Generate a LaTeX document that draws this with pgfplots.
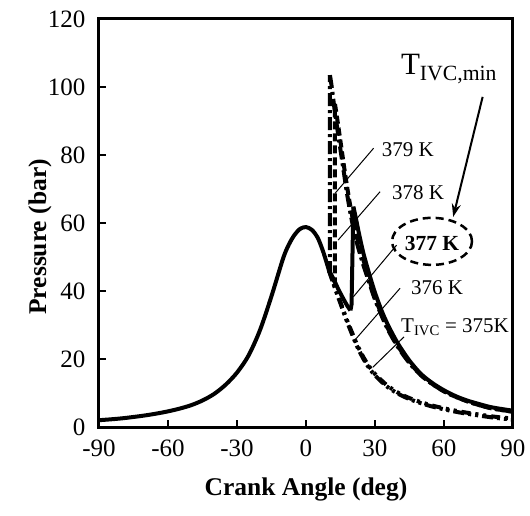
\documentclass[border=0pt]{standalone}
\usepackage{fontspec}
\setmainfont{Liberation Serif}
\usepackage{pgfplots}
\pgfplotsset{compat=1.18}
\usetikzlibrary{arrows.meta}

% common compression stroke (all cases)
\pgfplotstableread{
x y
-90 2.0
-85 2.25
-80 2.55
-75 2.95
-70 3.4
-65 3.95
-60 4.6
-55 5.4
-50 6.4
-45 7.8
-40 9.7
-35 12.4
-30 16.0
-25 21.0
-20 28.5
-15 38.5
-10 49.5
-7.5 53.6
-5 56.5
-2.5 58.3
0 58.8
2.5 58.0
5 55.8
7.5 51.5
10 46.0
}\comp

% T_IVC = 375 K (misfire)
\pgfplotstableread{
x y
10 46.0
12.5 41.0
15 36.3
17.5 31.6
20 27.3
22.5 23.3
25 20.0
27.5 17.3
30 15.2
35 12.0
40 9.8
45 8.2
50 7.0
55 6.0
60 5.2
65 4.5
70 3.9
75 3.4
80 2.9
85 2.5
90 2.2
}\tA

% 376 K
\pgfplotstableread{
x y
10 46.0
12.5 41.3
15 36.7
17.5 32.0
20 27.8
22.5 23.8
25 20.5
27.5 17.8
30 15.6
35 12.4
40 10.1
45 8.5
50 7.3
55 6.3
60 5.5
65 4.8
70 4.2
75 3.7
80 3.2
85 2.8
90 2.5
}\tB

% 377 K : before ignition
\pgfplotstableread{
x y
10 46.0
12 43.5
14 40.6
16 38.0
18 35.6
19.3 34.3
}\tCa
% 377 K : after ignition
\pgfplotstableread{
x y
20.6 64.8
21.5 62.0
23 57.0
25 51.0
27.5 45.0
30 39.5
33 34.0
36 29.5
40 24.5
45 19.5
50 15.6
55 12.9
60 10.8
65 9.1
70 7.8
75 6.8
80 5.9
85 5.3
90 4.8
}\tCb

% 378 K : after ignition
\pgfplotstableread{
x y
12.6 95.0
13.5 91.0
15 84.0
17 74.5
19 66.0
21 59.0
23 53.5
25 49.0
27.5 43.5
30 38.0
35 29.8
40 23.8
45 19.0
50 15.3
55 12.6
60 10.5
65 8.9
70 7.6
75 6.5
80 5.6
85 5.0
90 4.5
}\tD

% 379 K : after ignition
\pgfplotstableread{
x y
10.4 103.5
11.2 100.0
12.5 93.0
14 86.0
16 77.0
18 68.0
20 60.5
22 54.5
25 47.5
27.5 42.5
30 37.5
35 29.5
40 23.5
45 18.8
50 15.2
55 12.6
60 10.5
65 8.9
70 7.6
75 6.5
80 5.6
85 5.0
90 4.5
}\tE

\begin{document}
\begin{tikzpicture}[x=1pt,y=1pt]
\path (0,0) rectangle (530,515);
\begin{axis}[
  at={(99pt,88pt)}, anchor=south west,
  width=414pt, height=408pt, scale only axis,
  xmin=-90, xmax=90, ymin=0, ymax=120,
  xtick={-90,-60,-30,0,30,60,90},
  xticklabels={-90,-60,-30,0,30,60,90},
  ytick={0,20,40,60,80,100,120},
  yticklabels={0,20,40,60,80,100,120},
  tick align=inside, tick pos=left,
  major tick length=7pt,
  tick style={line width=1.2pt, black},
  axis line style={line width=3pt},
  tick label style={font=\fontsize{25}{30}\selectfont},
  xticklabel style={yshift=-9pt},
  yticklabel style={xshift=-10pt},
  xlabel={Crank Angle (deg)},
  xlabel style={at={(axis description cs:0.5,-0.154)}, anchor=center, font=\bfseries\fontsize{25.5}{30}\selectfont},
  ylabel={Pressure (bar)},
  ylabel style={at={(axis description cs:-0.1425,0.466)}, anchor=center, font=\bfseries\fontsize{25.5}{30}\selectfont},
  clip mode=individual,
  every axis plot/.append style={line join=round, line cap=butt, black, line width=4pt},
]
% 375 K and 376 K (no ignition)
\addplot[smooth, tension=0.5, dash pattern=on 11pt off 4pt on 3pt off 4pt on 3pt off 4pt] table[x=x,y=y] {\tA};
\addplot[smooth, tension=0.5, dash pattern=on 9pt off 5pt on 3pt off 5pt on 3pt off 5pt] table[x=x,y=y] {\tB};
% 379 K
\addplot[dash pattern=on 13pt off 4pt on 3pt off 4pt] coordinates {(10,46) (10.4,45.5) (10.4,103.5)};
\addplot[smooth, tension=0.5, dash pattern=on 13pt off 4pt on 3pt off 4pt] table[x=x,y=y] {\tE};
% 378 K
\addplot[dash pattern=on 8pt off 4pt] coordinates {(12,43.2) (12.6,42.5) (12.6,95)};
\addplot[smooth, tension=0.5, dash pattern=on 8pt off 4pt] table[x=x,y=y] {\tD};
% 377 K and common compression
\addplot[smooth, tension=0.5] table[x=x,y=y] {\comp};
\addplot[smooth, tension=0.5] table[x=x,y=y] {\tCa};
\addplot[] coordinates {(19.3,34.3) (19.8,36.0) (20.6,64.8)};
\addplot[smooth, tension=0.5] table[x=x,y=y] {\tCb};

\draw[line width=1pt] (axis cs:29.4,82) -- (axis cs:12.6,68.7);
\node[font=\fontsize{21}{25}\selectfont] at (axis cs:44.3,81.5) {379 K};
\draw[line width=1pt] (axis cs:32.2,69.2) -- (axis cs:14,55);
\node[font=\fontsize{21}{25}\selectfont] at (axis cs:48.7,69.0) {378 K};
\draw[line width=1pt] (axis cs:39.4,53.5) -- (axis cs:20.6,38.3);
\node[font=\bfseries\fontsize{21.5}{25}\selectfont] at (axis cs:54.8,54.1) {377 K};
\draw[line width=2.5pt, dash pattern=on 8pt off 5pt] (axis cs:54.8,54.6) ellipse [x radius=40pt, y radius=23.5pt];
\draw[line width=1pt] (axis cs:40.9,40.8) -- (axis cs:21.3,25.6);
\node[font=\fontsize{21}{25}\selectfont] at (axis cs:57,40.9) {376 K};
\draw[line width=1pt] (axis cs:42.6,26.5) -- (axis cs:29.1,17.6);
\node[font=\fontsize{21}{25}\selectfont] at (axis cs:64.8,29.4) {T\textsubscript{IVC} = 375K};
\node[font=\fontsize{31}{36}\selectfont] at (axis cs:62.2,105.3) {T\textsubscript{IVC,min}};
\draw[line width=2pt, -{Stealth[length=13pt,width=9pt]}] (axis cs:76.8,97.1) -- (axis cs:64,61.8);
\end{axis}
\end{tikzpicture}
\end{document}
